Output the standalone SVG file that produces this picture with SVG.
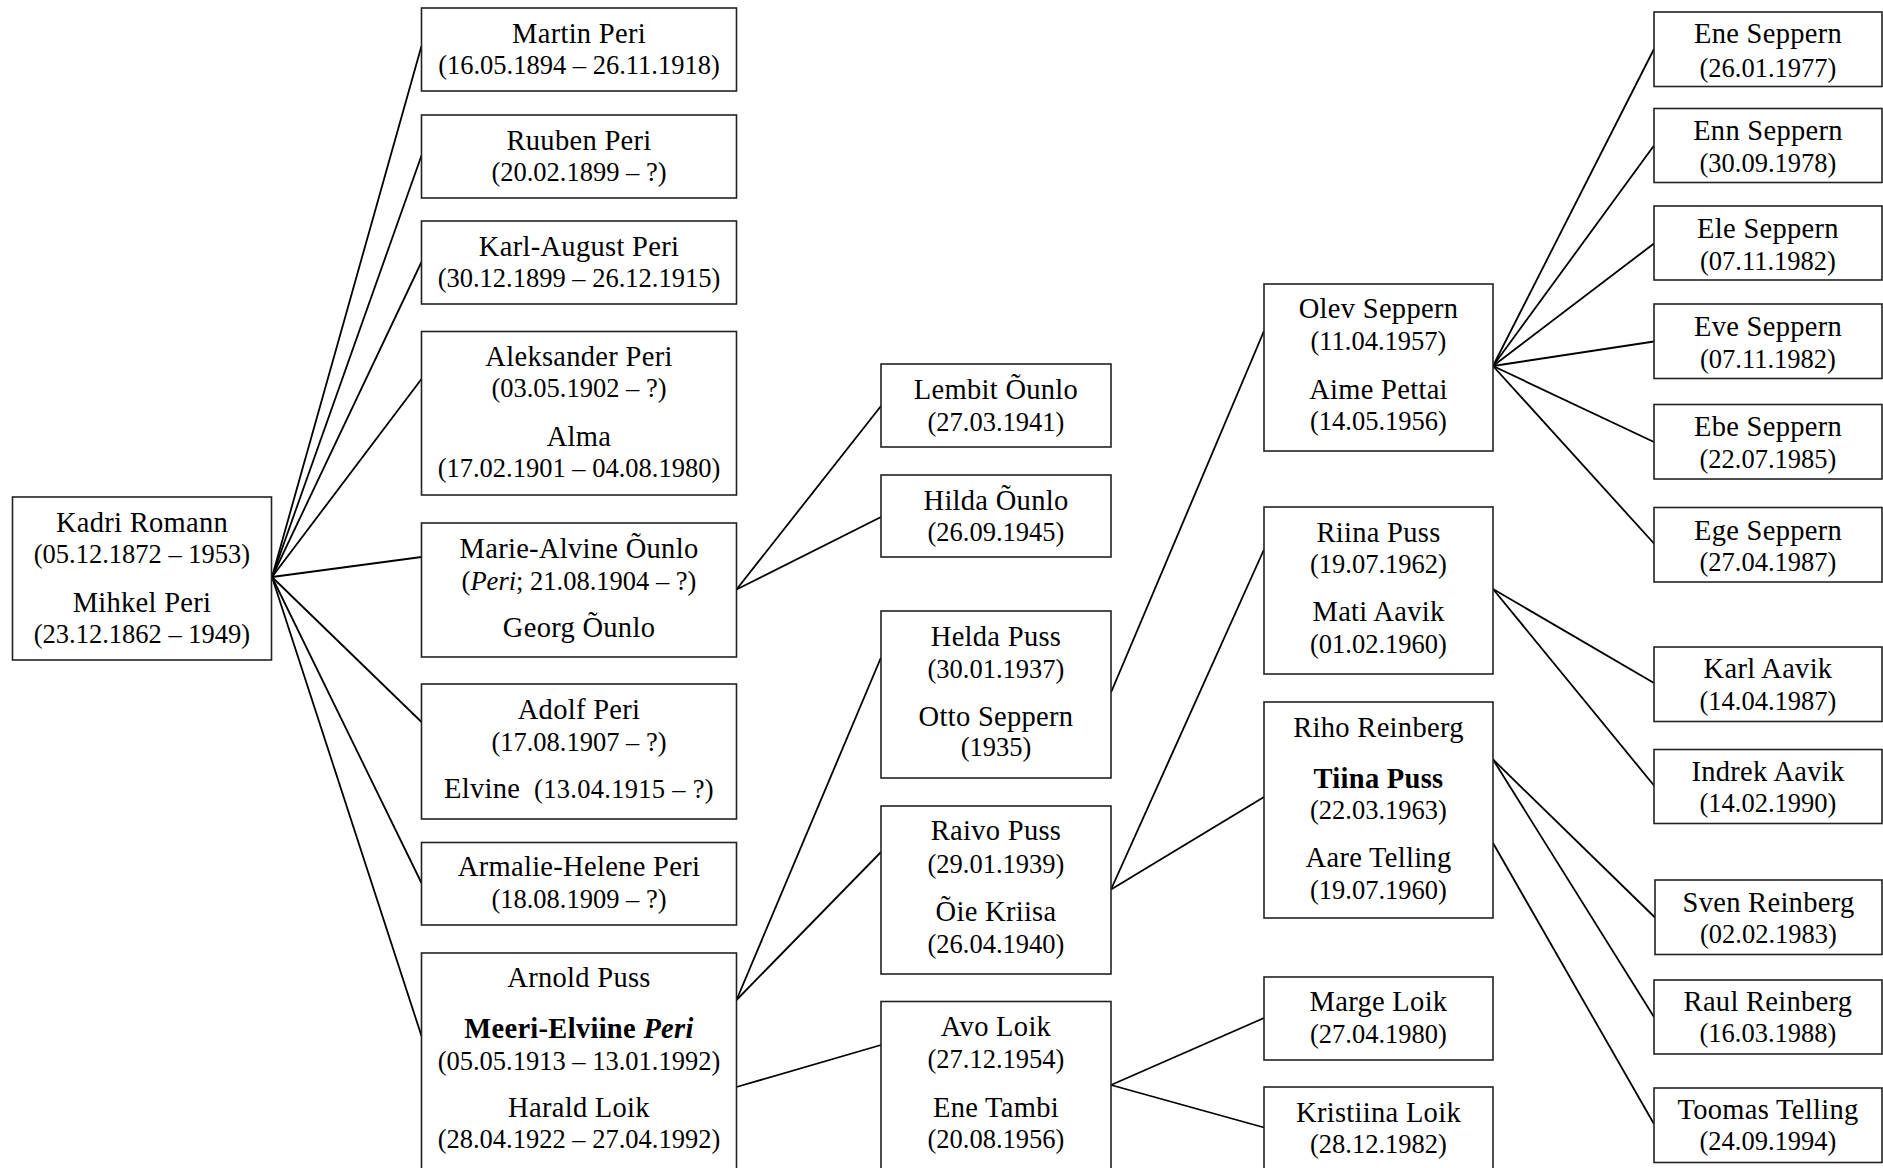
<svg xmlns="http://www.w3.org/2000/svg" width="1883" height="1168" viewBox="0 0 1883 1168">
<style>
.box{fill:#fff;stroke:#222;stroke-width:1.6}
.c line{stroke:#000;stroke-width:1.8}
text{font-family:"Liberation Serif","Times New Roman",serif;fill:#000;text-anchor:middle}
.n{font-size:28.5px;letter-spacing:0.3px}
.d{font-size:26.5px}
.b{font-weight:bold}
.i{font-style:italic}
</style>
<rect width="1883" height="1168" fill="#fff"/>
<g id="connectors" class="c">
<line x1="272" y1="577" x2="421.5" y2="46"/>
<line x1="272" y1="577" x2="421.5" y2="155.5"/>
<line x1="272" y1="577" x2="421.5" y2="262"/>
<line x1="272" y1="577" x2="421.5" y2="379"/>
<line x1="272" y1="577" x2="421.5" y2="557"/>
<line x1="272" y1="577" x2="421.5" y2="722"/>
<line x1="272" y1="577" x2="421.5" y2="883"/>
<line x1="272" y1="577" x2="421.5" y2="1036"/>
<line x1="736.5" y1="589.5" x2="881" y2="406"/>
<line x1="736.5" y1="589.5" x2="881" y2="517"/>
<line x1="736.5" y1="1000" x2="881" y2="657.5"/>
<line x1="736.5" y1="1000" x2="881" y2="852"/>
<line x1="736.5" y1="1087" x2="881" y2="1045"/>
<line x1="1111" y1="692.5" x2="1264" y2="331"/>
<line x1="1111" y1="889.5" x2="1264" y2="549.5"/>
<line x1="1111" y1="889.5" x2="1264" y2="797"/>
<line x1="1111" y1="1085" x2="1264" y2="1018"/>
<line x1="1111" y1="1085" x2="1264" y2="1127.5"/>
<line x1="1493" y1="366" x2="1654" y2="49"/>
<line x1="1493" y1="366" x2="1654" y2="145.5"/>
<line x1="1493" y1="366" x2="1654" y2="243.5"/>
<line x1="1493" y1="366" x2="1654" y2="341.5"/>
<line x1="1493" y1="366" x2="1654" y2="442"/>
<line x1="1493" y1="366" x2="1654" y2="543.5"/>
<line x1="1493" y1="589" x2="1654" y2="683"/>
<line x1="1493" y1="589" x2="1654" y2="785.5"/>
<line x1="1493" y1="759.5" x2="1655" y2="917.5"/>
<line x1="1493" y1="759.5" x2="1654" y2="1017"/>
<line x1="1493" y1="843" x2="1654" y2="1124"/>
</g>
<g id="kadri"><rect class="box" x="12.5" y="497" width="259" height="163"/>
<text class="n" x="142" y="532">Kadri Romann</text><text class="d" x="142" y="563">(05.12.1872 – 1953)</text>
<text class="n" x="142" y="612">Mihkel Peri</text><text class="d" x="142" y="643">(23.12.1862 – 1949)</text></g>
<g id="martin"><rect class="box" x="421.5" y="8" width="315" height="83"/>
<text class="n" x="579" y="43">Martin Peri</text><text class="d" x="579" y="74">(16.05.1894 – 26.11.1918)</text></g>
<g id="ruuben"><rect class="box" x="421.5" y="115" width="315" height="83"/>
<text class="n" x="579" y="150">Ruuben Peri</text><text class="d" x="579" y="181">(20.02.1899 – ?)</text></g>
<g id="karl-august"><rect class="box" x="421.5" y="221" width="315" height="83"/>
<text class="n" x="579" y="256">Karl-August Peri</text><text class="d" x="579" y="287">(30.12.1899 – 26.12.1915)</text></g>
<g id="aleksander"><rect class="box" x="421.5" y="331.5" width="315" height="163.5"/>
<text class="n" x="579" y="366">Aleksander Peri</text><text class="d" x="579" y="397">(03.05.1902 – ?)</text>
<text class="n" x="579" y="446">Alma</text><text class="d" x="579" y="477">(17.02.1901 – 04.08.1980)</text></g>
<g id="marie-alvine"><rect class="box" x="421.5" y="523" width="315" height="134"/>
<text class="n" x="579" y="558">Marie-Alvine Õunlo</text><text class="d" x="579" y="589.5">(<tspan class="i">Peri</tspan>; 21.08.1904 – ?)</text>
<text class="n" x="579" y="637">Georg Õunlo</text></g>
<g id="adolf"><rect class="box" x="421.5" y="684" width="315" height="135"/>
<text class="n" x="579" y="719">Adolf Peri</text><text class="d" x="579" y="750.5">(17.08.1907 – ?)</text>
<text class="n" x="579" y="797.5" xml:space="preserve">Elvine<tspan class="d">  (13.04.1915 – ?)</tspan></text></g>
<g id="armalie"><rect class="box" x="421.5" y="842.5" width="315" height="82.5"/>
<text class="n" x="579" y="876">Armalie-Helene Peri</text><text class="d" x="579" y="908">(18.08.1909 – ?)</text></g>
<g id="meeri"><rect class="box" x="421.5" y="953" width="315" height="230"/>
<text class="n" x="579" y="987">Arnold Puss</text>
<text class="n b" x="579" y="1038">Meeri-Elviine <tspan class="i">Peri</tspan></text><text class="d" x="579" y="1069.5">(05.05.1913 – 13.01.1992)</text>
<text class="n" x="579" y="1117">Harald Loik</text><text class="d" x="579" y="1147.5">(28.04.1922 – 27.04.1992)</text></g>
<g id="lembit"><rect class="box" x="881" y="364" width="230" height="83"/>
<text class="n" x="996" y="399">Lembit Õunlo</text><text class="d" x="996" y="431">(27.03.1941)</text></g>
<g id="hilda"><rect class="box" x="881" y="475" width="230" height="82"/>
<text class="n" x="996" y="510">Hilda Õunlo</text><text class="d" x="996" y="541">(26.09.1945)</text></g>
<g id="helda"><rect class="box" x="881" y="611" width="230" height="167"/>
<text class="n" x="996" y="645.5">Helda Puss</text><text class="d" x="996" y="677.5">(30.01.1937)</text>
<text class="n" x="996" y="725.5">Otto Seppern</text><text class="d" x="996" y="756">(1935)</text></g>
<g id="raivo"><rect class="box" x="881" y="806" width="230" height="168"/>
<text class="n" x="996" y="840">Raivo Puss</text><text class="d" x="996" y="872.5">(29.01.1939)</text>
<text class="n" x="996" y="921">Õie Kriisa</text><text class="d" x="996" y="953">(26.04.1940)</text></g>
<g id="avo"><rect class="box" x="881" y="1001.5" width="230" height="180"/>
<text class="n" x="996" y="1035.5">Avo Loik</text><text class="d" x="996" y="1067.5">(27.12.1954)</text>
<text class="n" x="996" y="1116.5">Ene Tambi</text><text class="d" x="996" y="1147.5">(20.08.1956)</text></g>
<g id="olev"><rect class="box" x="1264" y="284" width="229" height="167"/>
<text class="n" x="1378.5" y="318">Olev Seppern</text><text class="d" x="1378.5" y="349.5">(11.04.1957)</text>
<text class="n" x="1378.5" y="399">Aime Pettai</text><text class="d" x="1378.5" y="430">(14.05.1956)</text></g>
<g id="riina"><rect class="box" x="1264" y="507" width="229" height="167"/>
<text class="n" x="1378.5" y="542">Riina Puss</text><text class="d" x="1378.5" y="573">(19.07.1962)</text>
<text class="n" x="1378.5" y="621">Mati Aavik</text><text class="d" x="1378.5" y="653">(01.02.1960)</text></g>
<g id="tiina"><rect class="box" x="1264" y="702" width="229" height="216"/>
<text class="n" x="1378.5" y="736.5">Riho Reinberg</text>
<text class="n b" x="1378.5" y="787.5">Tiina Puss</text><text class="d" x="1378.5" y="819">(22.03.1963)</text>
<text class="n" x="1378.5" y="867">Aare Telling</text><text class="d" x="1378.5" y="898.5">(19.07.1960)</text></g>
<g id="marge"><rect class="box" x="1264" y="977" width="229" height="83"/>
<text class="n" x="1378.5" y="1011">Marge Loik</text><text class="d" x="1378.5" y="1043">(27.04.1980)</text></g>
<g id="kristiina"><rect class="box" x="1264" y="1087" width="229" height="100"/>
<text class="n" x="1378.5" y="1122">Kristiina Loik</text><text class="d" x="1378.5" y="1153">(28.12.1982)</text></g>
<g id="ene"><rect class="box" x="1654" y="12" width="228" height="74.5"/>
<text class="n" x="1768" y="43">Ene Seppern</text><text class="d" x="1768" y="76.5">(26.01.1977)</text></g>
<g id="enn"><rect class="box" x="1654" y="108.5" width="228" height="74"/>
<text class="n" x="1768" y="140">Enn Seppern</text><text class="d" x="1768" y="172">(30.09.1978)</text></g>
<g id="ele"><rect class="box" x="1654" y="206" width="228" height="74"/>
<text class="n" x="1768" y="237.5">Ele Seppern</text><text class="d" x="1768" y="270">(07.11.1982)</text></g>
<g id="eve"><rect class="box" x="1654" y="304" width="228" height="74.5"/>
<text class="n" x="1768" y="336">Eve Seppern</text><text class="d" x="1768" y="368">(07.11.1982)</text></g>
<g id="ebe"><rect class="box" x="1654" y="404.5" width="228" height="74.5"/>
<text class="n" x="1768" y="436">Ebe Seppern</text><text class="d" x="1768" y="468">(22.07.1985)</text></g>
<g id="ege"><rect class="box" x="1654" y="507.5" width="228" height="74.5"/>
<text class="n" x="1768" y="539.5">Ege Seppern</text><text class="d" x="1768" y="571">(27.04.1987)</text></g>
<g id="karl"><rect class="box" x="1654" y="647" width="228" height="74.5"/>
<text class="n" x="1768" y="678">Karl Aavik</text><text class="d" x="1768" y="709.5">(14.04.1987)</text></g>
<g id="indrek"><rect class="box" x="1654" y="749.5" width="228" height="74"/>
<text class="n" x="1768" y="780.5">Indrek Aavik</text><text class="d" x="1768" y="812">(14.02.1990)</text></g>
<g id="sven"><rect class="box" x="1655" y="880" width="227" height="74.5"/>
<text class="n" x="1768.5" y="912">Sven Reinberg</text><text class="d" x="1768.5" y="943">(02.02.1983)</text></g>
<g id="raul"><rect class="box" x="1654" y="980" width="228" height="74"/>
<text class="n" x="1768" y="1011">Raul Reinberg</text><text class="d" x="1768" y="1042">(16.03.1988)</text></g>
<g id="toomas"><rect class="box" x="1654" y="1088" width="228" height="74.5"/>
<text class="n" x="1768" y="1119">Toomas Telling</text><text class="d" x="1768" y="1150">(24.09.1994)</text></g>
</svg>
